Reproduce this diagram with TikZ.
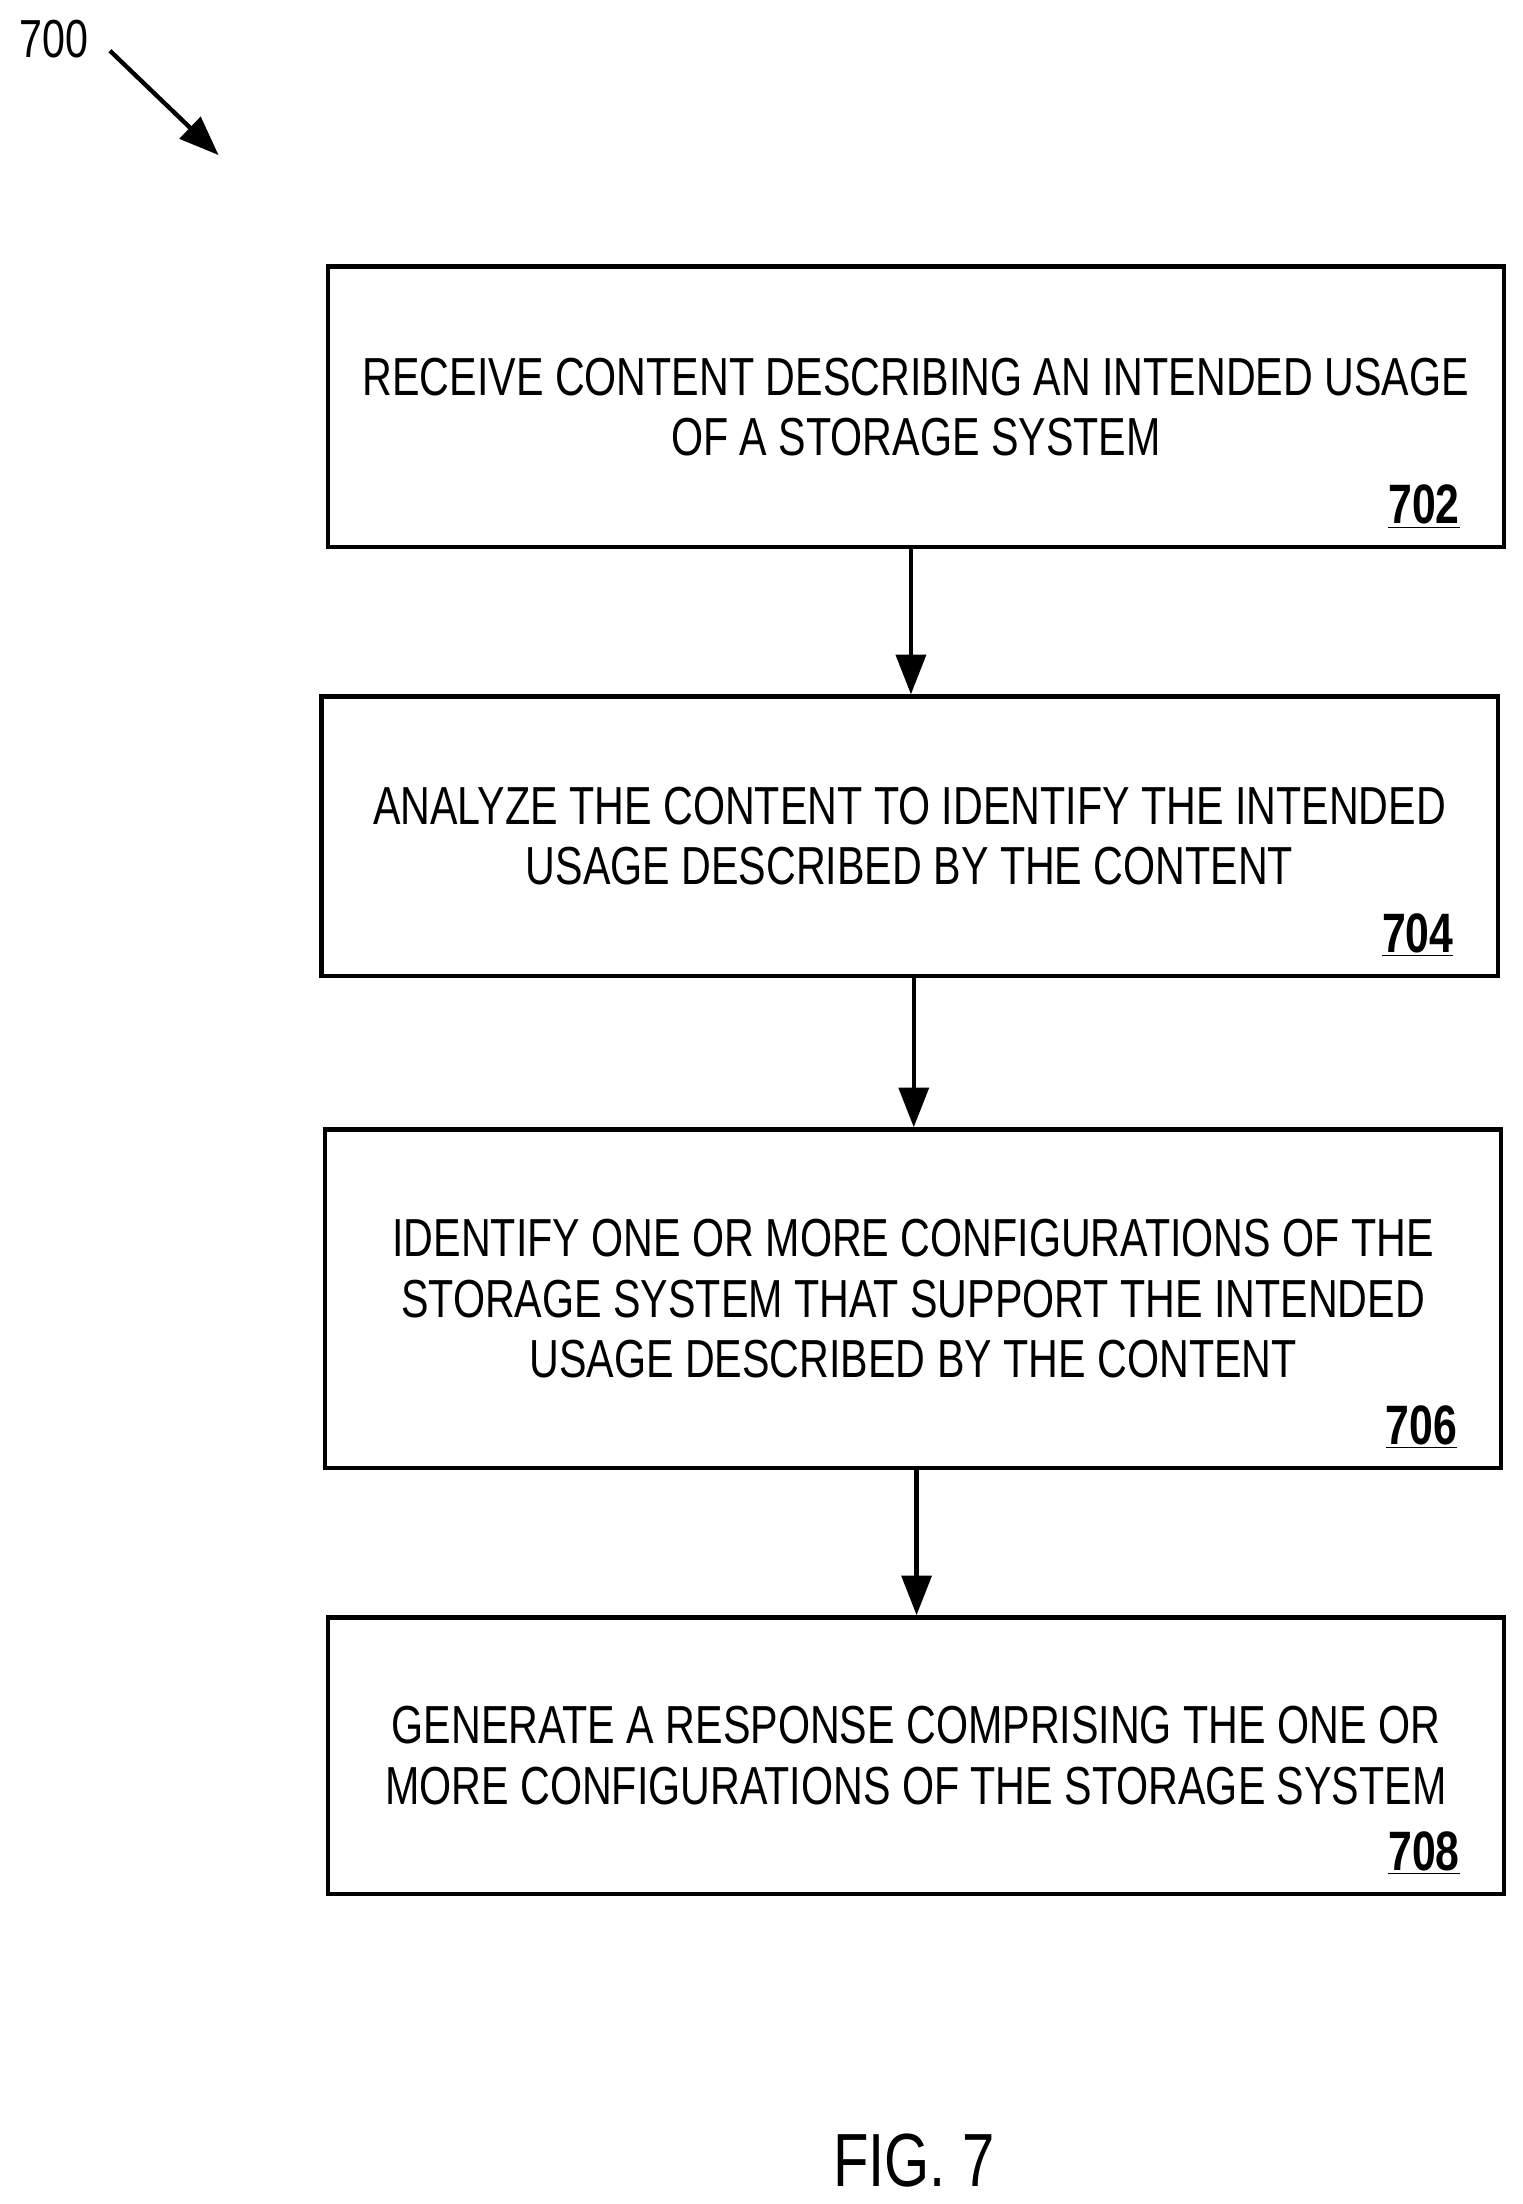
\documentclass[tikz,border=0pt]{standalone}
\usepackage{fontspec}
\setmainfont{Liberation Sans}[FakeStretch=0.77]
\usetikzlibrary{positioning,arrows.meta}
\tikzset{
  stepbox/.style={draw, line width=2.2pt, minimum width=20.85cm, align=center,
    font=\fontsize{27}{30.5}\selectfont, inner sep=0pt},
  ref/.style={anchor=south east, font=\fontsize{28}{30}\selectfont\bfseries},
  flow/.style={-{Triangle[length=20pt,width=15pt]}, line width=2.2pt}
}
\newcommand{\stepnum}[1]{\underline{#1}}
\begin{document}
\begin{tikzpicture}[x=0.025cm, y=-0.025cm]
\useasboundingbox (0,0) rectangle (1080,1563);
\node [font=\fontsize{27}{30}\selectfont] (lbl) at (38,28) {700};
\coordinate (tip) at (155,110);
\draw [flow] (78,36) -- (tip);
\node [stepbox, minimum height=4.97cm] (s702) at (649.5,288.5) {RECEIVE CONTENT DESCRIBING AN INTENDED USAGE\\OF A STORAGE SYSTEM};
\node [stepbox, minimum height=4.95cm] (s704) at (645,593) {ANALYZE THE CONTENT TO IDENTIFY THE INTENDED\\USAGE DESCRIBED BY THE CONTENT};
\node [stepbox, minimum height=6.0cm] (s706) at (647.5,921) {IDENTIFY ONE OR MORE CONFIGURATIONS OF THE\\STORAGE SYSTEM THAT SUPPORT THE INTENDED\\USAGE DESCRIBED BY THE CONTENT};
\node [stepbox, minimum height=4.9cm] (s708) at (649.5,1245) {GENERATE A RESPONSE COMPRISING THE ONE OR\\MORE CONFIGURATIONS OF THE STORAGE SYSTEM};
\node [ref] at ([xshift=-0.7cm, yshift=0.25cm]s702.south east) {\stepnum{702}};
\node [ref] at ([xshift=-0.7cm, yshift=0.25cm]s704.south east) {\stepnum{704}};
\node [ref] at ([xshift=-0.7cm, yshift=0.25cm]s706.south east) {\stepnum{706}};
\node [ref] at ([xshift=-0.7cm, yshift=0.25cm]s708.south east) {\stepnum{708}};
\draw [flow] (s702.south -| 646,0) -- (s704.north -| 646,0);
\draw [flow] (s704.south -| 648,0) -- (s706.north -| 648,0);
\draw [flow] (s706.south -| 650,0) -- (s708.north -| 650,0);
\node [font=\fontsize{38}{40}\selectfont] (fig) at (648,1532) {FIG. 7};
\end{tikzpicture}
\end{document}
